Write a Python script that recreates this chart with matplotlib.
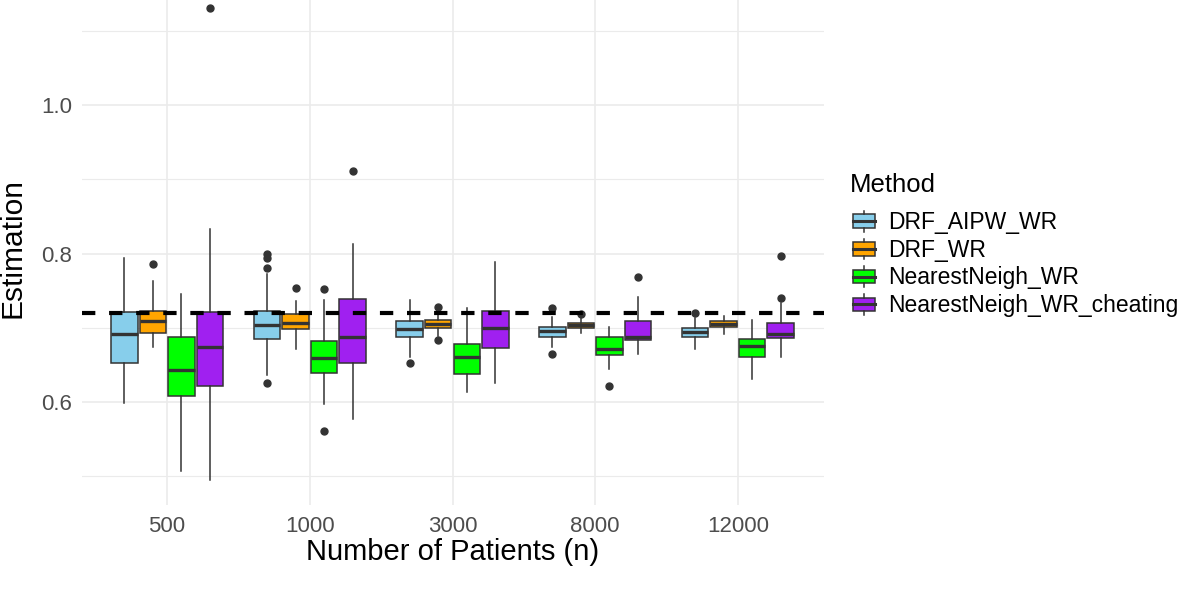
import matplotlib
matplotlib.use("Agg")
import matplotlib.pyplot as plt
from matplotlib.legend_handler import HandlerBase
from matplotlib.patches import Rectangle
from matplotlib.lines import Line2D

plt.rcParams['font.family'] = ['Liberation Sans', 'DejaVu Sans']

# data
n_patients = ['500', '1000', '3000', '8000', '12000']
methods = ['DRF_AIPW_WR', 'DRF_WR', 'NearestNeigh_WR', 'NearestNeigh_WR_cheating']
colors = ['#87CEEB', '#FFA500', '#00FF00', '#A020F0']
true_value = 0.72

aipw_lo = [0.598, 0.636, 0.661, 0.674, 0.671]
aipw_q1 = [0.653, 0.685, 0.687, 0.688, 0.687]
aipw_med = [0.692, 0.704, 0.698, 0.695, 0.694]
aipw_q3 = [0.721, 0.723, 0.709, 0.701, 0.700]
aipw_hi = [0.794, 0.773, 0.738, 0.715, 0.713]
aipw_out = [[], [0.800, 0.794, 0.781, 0.626], [0.652], [0.727, 0.665], [0.720]]

drf_lo = [0.674, 0.671, 0.689, 0.693, 0.692]
drf_q1 = [0.693, 0.698, 0.700, 0.700, 0.701]
drf_med = [0.709, 0.707, 0.705, 0.704, 0.705]
drf_q3 = [0.722, 0.719, 0.711, 0.707, 0.709]
drf_hi = [0.763, 0.736, 0.722, 0.713, 0.716]
drf_out = [[0.786], [0.754], [0.728, 0.683], [0.718], []]

nn_lo = [0.507, 0.597, 0.613, 0.644, 0.631]
nn_q1 = [0.608, 0.639, 0.638, 0.663, 0.660]
nn_med = [0.643, 0.659, 0.660, 0.671, 0.675]
nn_q3 = [0.687, 0.682, 0.678, 0.687, 0.685]
nn_hi = [0.745, 0.738, 0.726, 0.701, 0.711]
nn_out = [[], [0.752, 0.561], [], [0.622], []]

cheat_lo = [0.495, 0.577, 0.625, 0.665, 0.661]
cheat_q1 = [0.622, 0.653, 0.673, 0.683, 0.686]
cheat_med = [0.674, 0.688, 0.699, 0.687, 0.691]
cheat_q3 = [0.721, 0.739, 0.722, 0.709, 0.707]
cheat_hi = [0.833, 0.813, 0.788, 0.742, 0.733]
cheat_out = [[1.131], [0.911], [], [0.768], [0.796, 0.740]]

series = [
    (aipw_lo, aipw_q1, aipw_med, aipw_q3, aipw_hi, aipw_out),
    (drf_lo, drf_q1, drf_med, drf_q3, drf_hi, drf_out),
    (nn_lo, nn_q1, nn_med, nn_q3, nn_hi, nn_out),
    (cheat_lo, cheat_q1, cheat_med, cheat_q3, cheat_hi, cheat_out),
]

edge = '#333333'
fig = plt.figure(figsize=(11.96, 6.09), dpi=100)
ax = fig.add_axes([81.5 / 1196, 104 / 609, 742 / 1196, 505 / 609])

# grid like theme_minimal
for v in [0.5, 0.7, 0.9, 1.1]:
    ax.axhline(v, color='#EBEBEB', lw=0.8, zorder=0)
for v in [0.6, 0.8, 1.0]:
    ax.axhline(v, color='#EBEBEB', lw=1.2, zorder=0)
for i in range(len(n_patients)):
    ax.axvline(i + 1, color='#EBEBEB', lw=1.2, zorder=0)

offsets = [-0.3, -0.1, 0.1, 0.3]
for k, (lo, q1, med, q3, hi, out) in enumerate(series):
    stats = []
    for i in range(len(n_patients)):
        stats.append(dict(whislo=lo[i], q1=q1[i], med=med[i], q3=q3[i],
                          whishi=hi[i], fliers=out[i]))
    pos = [i + 1 + offsets[k] for i in range(len(n_patients))]
    ax.bxp(stats, positions=pos, widths=0.185, patch_artist=True,
           showcaps=False,
           boxprops=dict(facecolor=colors[k], edgecolor=edge, linewidth=1.1),
           medianprops=dict(color=edge, linewidth=2.4, solid_capstyle='butt'),
           whiskerprops=dict(color=edge, linewidth=1.1),
           flierprops=dict(marker='o', markerfacecolor=edge, markeredgecolor=edge,
                           markersize=5),
           zorder=2)

ax.axhline(true_value, color='black', lw=3.0, dashes=(3.2, 3.3), zorder=3)

ax.set_xlim(0.4, 5.6)
ax.set_ylim(0.4613, 1.1414)
ax.set_xticks(range(1, len(n_patients) + 1))
ax.set_xticklabels(n_patients)
ax.set_yticks([0.6, 0.8, 1.0])
ax.set_yticklabels(['0.6', '0.8', '1.0'])
ax.tick_params(length=0, labelsize=16, labelcolor='#4D4D4D')
ax.tick_params(axis='y', pad=6.5)
ax.tick_params(axis='x', pad=8)
for s in ax.spines.values():
    s.set_visible(False)
ax.set_xlabel('Number of Patients (n)', fontsize=21, labelpad=1)
ax.set_ylabel('Estimation', fontsize=21.5)
ax.yaxis.set_label_coords(-55 / 742, (505 - 247.5) / 505)


class BoxKey(HandlerBase):
    def create_artists(self, legend, orig_handle, xdescent, ydescent,
                       width, height, fontsize, trans):
        x0, y0 = -xdescent, -ydescent
        cx = x0 + width / 2
        rect = Rectangle((x0, y0 + 0.17 * height), width, 0.66 * height,
                         facecolor=orig_handle, edgecolor=edge, lw=1.1,
                         transform=trans)
        med = Line2D([x0, x0 + width], [y0 + 0.5 * height] * 2, color=edge,
                     lw=2.2, transform=trans)
        top = Line2D([cx, cx], [y0 + 0.83 * height, y0 + height], color=edge,
                     lw=1.1, transform=trans)
        bot = Line2D([cx, cx], [y0, y0 + 0.17 * height], color=edge,
                     lw=1.1, transform=trans)
        return [rect, med, top, bot]


fig.text(850 / 1196, 1 - 185 / 609, 'Method', fontsize=18.5, va='center', ha='left')
leg = fig.legend(colors, methods, handler_map={str: BoxKey()},
                 loc='upper left', bbox_to_anchor=(853 / 1196, 1 - 211 / 609),
                 frameon=False, fontsize=16.5,
                 handlelength=0.96, handleheight=1.0, handletextpad=0.57,
                 labelspacing=0.2, borderpad=0, borderaxespad=0)

fig.savefig('out.png', dpi=100)
